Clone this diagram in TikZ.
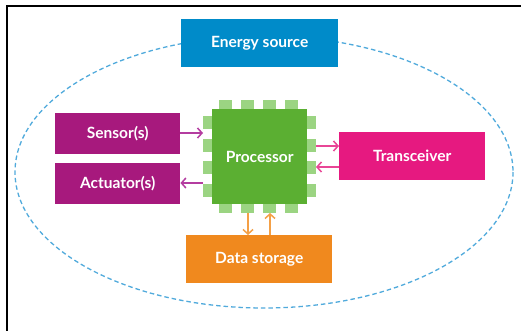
\documentclass[tikz,border=0pt]{standalone}
\usepackage{fontspec}
\setmainfont{Lato}
\usetikzlibrary{arrows.meta}
\definecolor{energyblue}{RGB}{0,139,201}
\definecolor{ioPurple}{RGB}{167,25,125}
\definecolor{ioArrow}{RGB}{180,60,160}
\definecolor{chipGreen}{RGB}{91,175,50}
\definecolor{pinGreen}{RGB}{155,212,130}
\definecolor{radioPink}{RGB}{230,25,128}
\definecolor{radioArrow}{RGB}{232,70,150}
\definecolor{storeOrange}{RGB}{240,137,30}
\definecolor{storeArrow}{RGB}{244,160,70}
\definecolor{ringBlue}{RGB}{80,170,220}
\tikzset{
  block/.style={draw=none, fill=#1, text=white, font=\bfseries\fontsize{15.5}{18}\selectfont,
    inner sep=0pt, anchor=north west},
  pin/.style={fill=pinGreen, draw=none},
  link/.style={draw=#1, line width=1.5pt, -{Straight Barb[length=4.5pt,width=10pt,line width=1.5pt]}},
}
\begin{document}
\begin{tikzpicture}[x=1pt, y=-1pt]
\useasboundingbox (0,0) rectangle (521,331);
\fill[white] (0,0) rectangle (521,331);
% outer frame
\draw[line width=2pt, black] (7,332) -- (7,6) -- (522,6);
% dashed boundary of the node
\draw[ringBlue, line width=1.3pt, dash pattern=on 4.5pt off 3pt] (264,172) ellipse [x radius=249, y radius=136];
% blocks
\node[block=energyblue, minimum width=157pt, minimum height=48pt] (energy) at (181,19) {Energy source};
\node[block=ioPurple, minimum width=125pt, minimum height=41pt] (sensor) at (55,113) {Sensor(s)};
\node[block=ioPurple, minimum width=125pt, minimum height=41pt] (actuator) at (55,163) {Actuator(s)};
\node[block=radioPink, minimum width=146pt, minimum height=48pt] (radio) at (339,132) {Transceiver};
\node[block=storeOrange, minimum width=146pt, minimum height=48pt] (store) at (186,235) {Data storage};
% processor chip with pins
\foreach \p in {219,241,263,285} {
  \fill[pin] (\p,100) rectangle ++(13,9);
  \fill[pin] (\p,204) rectangle ++(13,9);
}
\foreach \p in {116,139,161,184} {
  \fill[pin] (203,\p) rectangle ++(9,13);
  \fill[pin] (307,\p) rectangle ++(9,13);
}
\node[block=chipGreen, minimum width=95pt, minimum height=95pt] (cpu) at (212,109) {Processor};
% coordinates at the pin edges for the connectors
\coordinate (cpuSensor) at (203,133);
\coordinate (cpuAct) at (203,183);
\coordinate (cpuTx) at (316,146);
\coordinate (cpuRx) at (316,167);
\coordinate (cpuWr) at (248,213);
\coordinate (cpuRd) at (270,213);
% connectors
\draw[link=ioArrow] (sensor.east |- cpuSensor) -- (cpuSensor);
\draw[link=ioArrow] (cpuAct) -- (actuator.east |- cpuAct);
\draw[link=radioArrow] (cpuTx) -- (radio.west |- cpuTx);
\draw[link=radioArrow] (radio.west |- cpuRx) -- (cpuRx);
\draw[link=storeArrow] (cpuWr) -- (store.north -| cpuWr);
\draw[link=storeArrow] (store.north -| cpuRd) -- (cpuRd);
\end{tikzpicture}
\end{document}
